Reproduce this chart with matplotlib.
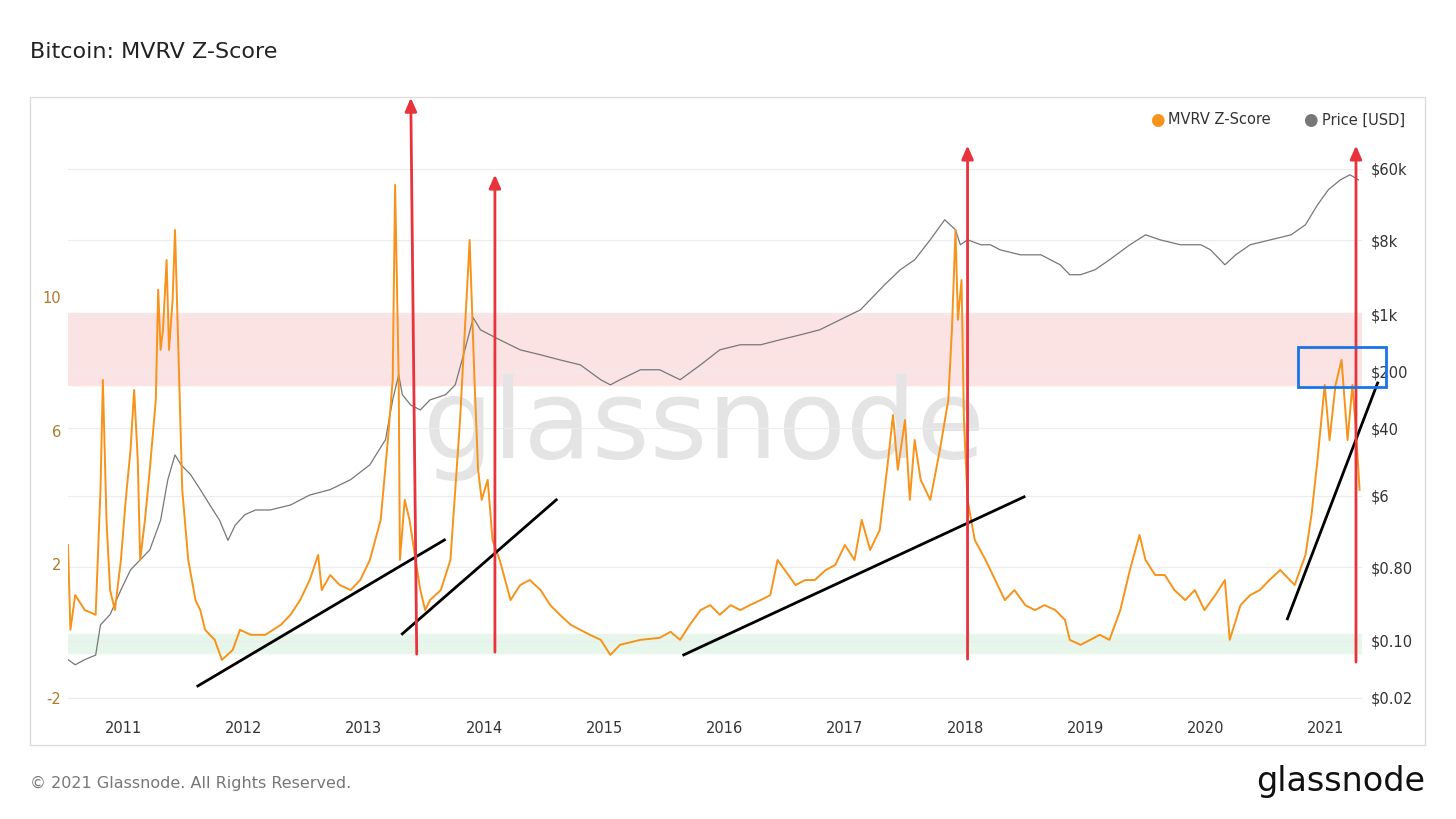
import matplotlib
matplotlib.use("Agg")
import matplotlib.pyplot as plt
from matplotlib.patches import Rectangle
import numpy as np

z_years = [2010.54,2010.56,2010.60,2010.68,2010.77,2010.81,2010.83,2010.86,2010.89,2010.93,2010.98,2011.02,2011.06,2011.09,2011.12,2011.14,2011.18,2011.22,2011.27,2011.29,2011.31,2011.33,2011.36,2011.38,2011.41,2011.43,2011.46,2011.49,2011.54,2011.60,2011.64,2011.68,2011.76,2011.82,2011.91,2011.97,2012.06,2012.18,2012.31,2012.39,2012.47,2012.55,2012.62,2012.65,2012.72,2012.80,2012.89,2012.97,2013.05,2013.14,2013.20,2013.24,2013.26,2013.29,2013.30,2013.34,2013.38,2013.43,2013.47,2013.51,2013.55,2013.64,2013.72,2013.80,2013.84,2013.88,2013.92,2013.95,2013.98,2014.03,2014.07,2014.13,2014.22,2014.30,2014.38,2014.47,2014.55,2014.63,2014.72,2014.80,2014.88,2014.97,2015.05,2015.13,2015.30,2015.46,2015.55,2015.63,2015.71,2015.80,2015.88,2015.96,2016.05,2016.13,2016.21,2016.30,2016.38,2016.44,2016.50,2016.59,2016.67,2016.75,2016.84,2016.92,2017.00,2017.08,2017.14,2017.21,2017.29,2017.36,2017.40,2017.44,2017.50,2017.54,2017.58,2017.63,2017.71,2017.79,2017.86,2017.89,2017.92,2017.94,2017.97,2017.99,2018.02,2018.08,2018.17,2018.25,2018.33,2018.41,2018.50,2018.58,2018.66,2018.75,2018.83,2018.87,2018.96,2019.04,2019.12,2019.20,2019.29,2019.37,2019.45,2019.50,2019.58,2019.66,2019.74,2019.83,2019.91,2019.99,2020.08,2020.16,2020.20,2020.29,2020.37,2020.45,2020.53,2020.62,2020.66,2020.74,2020.83,2020.88,2020.93,2020.99,2021.03,2021.08,2021.13,2021.18,2021.22,2021.25,2021.28]
z_vals = [2.58,0.04,1.08,0.63,0.49,4.23,7.52,3.33,1.23,0.63,2.13,3.93,5.43,7.22,5.13,2.13,3.33,4.83,6.92,10.22,8.42,9.02,11.11,8.42,9.92,12.01,8.12,4.23,2.13,0.93,0.63,0.04,-0.26,-0.86,-0.56,0.04,-0.11,-0.11,0.19,0.49,0.93,1.53,2.28,1.23,1.68,1.38,1.23,1.53,2.13,3.33,5.72,7.52,13.36,7.52,2.13,3.93,3.33,2.13,1.23,0.63,0.93,1.23,2.13,6.32,9.02,11.71,7.52,4.83,3.93,4.53,2.73,2.13,0.93,1.38,1.53,1.23,0.78,0.49,0.19,0.04,-0.11,-0.26,-0.71,-0.41,-0.26,-0.20,-0.02,-0.26,0.19,0.63,0.78,0.49,0.78,0.63,0.78,0.93,1.08,2.13,1.83,1.38,1.53,1.53,1.83,1.98,2.58,2.13,3.33,2.43,3.03,5.13,6.47,4.83,6.32,3.93,5.72,4.53,3.93,5.43,6.92,9.02,12.01,9.32,10.51,6.32,3.93,2.73,2.13,1.53,0.93,1.23,0.78,0.63,0.78,0.63,0.34,-0.26,-0.41,-0.26,-0.11,-0.26,0.63,1.83,2.88,2.13,1.68,1.68,1.23,0.93,1.23,0.63,1.08,1.53,-0.26,0.78,1.08,1.23,1.53,1.83,1.68,1.38,2.28,3.48,5.13,7.37,5.72,7.37,8.12,5.72,7.37,6.02,4.23]

p_years = [2010.54,2010.60,2010.68,2010.77,2010.81,2010.89,2010.98,2011.06,2011.14,2011.22,2011.31,2011.37,2011.43,2011.48,2011.56,2011.64,2011.72,2011.80,2011.87,2011.93,2012.01,2012.10,2012.22,2012.39,2012.55,2012.72,2012.89,2013.05,2013.18,2013.24,2013.29,2013.32,2013.39,2013.47,2013.55,2013.68,2013.76,2013.84,2013.91,2013.97,2014.05,2014.13,2014.30,2014.47,2014.63,2014.80,2014.97,2015.05,2015.13,2015.30,2015.46,2015.63,2015.80,2015.96,2016.13,2016.30,2016.46,2016.63,2016.79,2016.96,2017.13,2017.25,2017.33,2017.46,2017.58,2017.71,2017.83,2017.92,2017.96,2018.02,2018.13,2018.21,2018.29,2018.46,2018.63,2018.79,2018.87,2018.96,2019.08,2019.20,2019.37,2019.50,2019.62,2019.79,2019.96,2020.04,2020.16,2020.25,2020.37,2020.54,2020.71,2020.83,2020.93,2021.02,2021.12,2021.20,2021.27]
p_vals = [0.059,0.051,0.059,0.067,0.157,0.21,0.42,0.74,0.98,1.3,3.0,9.4,18.9,14.3,10.8,7.1,4.6,3.0,1.7,2.6,3.5,4.0,4.0,4.6,6.1,7.1,9.4,14.3,29,89,181,103,77,67,89,103,136,365,900,641,557,484,365,317,275,239,157,136,157,208,208,157,239,365,421,421,484,557,641,851,1128,1722,2281,3483,4613,8110,14250,10740,7050,8110,7050,7050,6120,5310,5310,4010,3030,3030,3483,4613,7050,9330,8110,7050,7050,6120,4010,5310,7050,8110,9330,12380,21730,33190,43950,50660,43950]

price_ticks = [0.02, 0.1, 0.8, 6, 40, 200, 1000, 8000, 60000]
price_labels = ["$0.02", "$0.10", "$0.80", "$6", "$40", "$200", "$1k", "$8k", "$60k"]
z_ticks = [-2, 2, 6, 10]
year_ticks = list(range(2011, 2022))

ORANGE = "#f7931a"
fig = plt.figure(figsize=(14.56, 8.19), dpi=100)
fig.patch.set_facecolor("white")
fig.text(30/1456, 1-52/819, "Bitcoin: MVRV Z-Score", fontsize=16, va="center", color="#222")
fig.patches.append(Rectangle((30/1456, 1-745/819), 1395/1456, 648/819, transform=fig.transFigure,
                             fill=False, edgecolor="#dcdcdc", lw=1))
fig.text(30/1456, 1-783/819, "© 2021 Glassnode. All Rights Reserved.", fontsize=11.5, va="center", color="#777")
fig.text(1425/1456, 1-781/819, "glassnode", fontsize=24, va="center", ha="right", color="#111", fontweight="medium")

ax = fig.add_axes([68/1456, 1-710/819, 1294/1456, 610/819])
ax.set_xlim(2010.54, 2021.30)
ax.set_ylim(-2.36, 15.9)
for s in ax.spines.values():
    s.set_visible(False)
ax.set_yticks(z_ticks)
ax.set_yticklabels([str(t) for t in z_ticks], color="#b07a2a", fontsize=10.5)
ax.tick_params(axis="y", length=0, pad=5)
ax.set_xticks(year_ticks)
ax.set_xticklabels([str(y) for y in year_ticks], fontsize=10.5, color="#333")
ax.tick_params(axis="x", length=0, pad=8)

ax2 = ax.twinx()
ax2.set_yscale("log")
ax2.set_ylim(10**-1.846, 10**5.62)
for s in ax2.spines.values():
    s.set_visible(False)
ax2.set_yticks(price_ticks)
ax2.set_yticklabels(price_labels, fontsize=10.5, color="#333")
ax2.minorticks_off()
ax2.tick_params(axis="y", length=0, pad=6)
ax2.grid(True, axis="y", color="#ececec", lw=0.8)
ax.set_zorder(0)
ax2.set_zorder(1)
ax2.patch.set_visible(False)

ax.axhspan(7.37, 9.53, color="#fbe3e4", zorder=0)
ax.axhspan(-0.65, -0.08, color="#e6f6ea", zorder=0)
ax.text(2015.83, 6.1, "glassnode", fontsize=80, color="#e4e4e4", ha="center", va="center", zorder=1)

T = ax.transData
ax2.plot(p_years, p_vals, color="#777", lw=0.9, zorder=2)
ax2.plot(z_years, z_vals, color=ORANGE, lw=1.4, zorder=3, transform=T)

for (x0, y0, x1, y1) in [(2011.62, -1.64, 2013.67, 2.73), (2013.32, -0.08, 2014.60, 3.93),
                         (2015.66, -0.71, 2018.49, 4.02), (2020.68, 0.37, 2021.43, 7.43)]:
    ax2.plot([x0, x1], [y0, y1], color="black", lw=2, zorder=4, clip_on=False, transform=T)

for (x0, y0, x1, y1) in [(2013.44, -0.77, 2013.39, 16.05), (2014.09, -0.71, 2014.09, 13.75),
                         (2018.02, -0.92, 2018.02, 14.62), (2021.25, -1.01, 2021.25, 14.62)]:
    ax2.annotate("", xy=(x1, y1), xytext=(x0, y0), xycoords=T, textcoords=T,
                 annotation_clip=False, zorder=5,
                 arrowprops=dict(arrowstyle="-|>,head_width=0.35,head_length=0.8", color="#e8323c", lw=2))

ax2.add_patch(Rectangle((2020.77, 7.31), 0.73, 1.2, fill=False, edgecolor="#1a73e8", lw=2,
                        clip_on=False, zorder=6, transform=T))

fig.text(1150/1456, 1-120/819, "●", color=ORANGE, fontsize=12, va="center")
fig.text(1168/1456, 1-120/819, "MVRV Z-Score", color="#333", fontsize=10.5, va="center")
fig.text(1303/1456, 1-120/819, "●", color="#777", fontsize=12, va="center")
fig.text(1322/1456, 1-120/819, "Price [USD]", color="#333", fontsize=10.5, va="center")

fig.savefig("out.png", dpi=100)
